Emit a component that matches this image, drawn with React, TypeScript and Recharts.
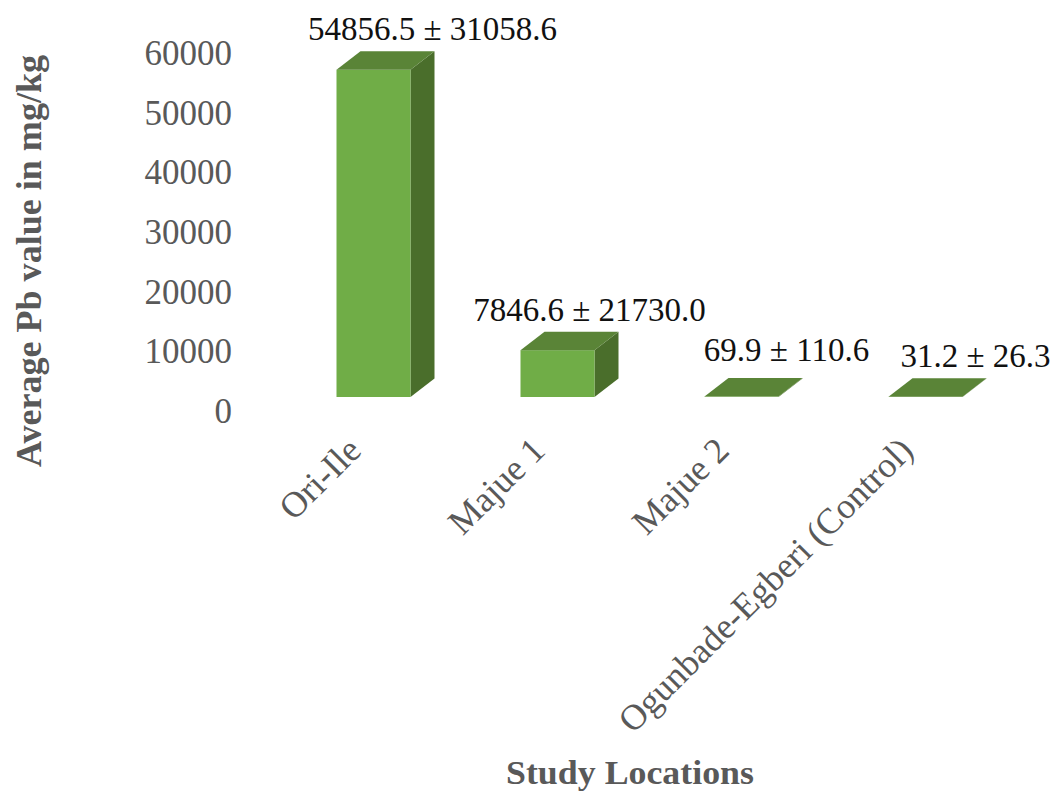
import { BarChart, Bar, XAxis, YAxis, LabelList } from 'recharts';

const categories = ['Ori-Ile', 'Majue 1', 'Majue 2', 'Ogunbade-Egberi (Control)'];
const means = [54856.5, 7846.6, 69.9, 31.2];
const errorText = ['31058.6', '21730.0', '110.6', '26.3'];
const yTicks = [0, 10000, 20000, 30000, 40000, 50000, 60000];

const data = categories.map((name, i) => ({
  name,
  mean: means[i],
  label: `${means[i]} ± ${errorText[i]}`,
}));

const FONT = '"Liberation Serif", serif';
const GREY = '#595959';
const DEPTH_X = 24;
const DEPTH_Y = 18.5;
// hand placed data labels, the originals were dragged around in Excel
const labelNudge = [
  { dx: 59, dy: -41 },
  { dx: 32, dy: -40 },
  { dx: 45, dy: -47 },
  { dx: 50, dy: -41 },
];

function Bar3D({ x, y, width, height }: any) {
  const right = x + width;
  const bottom = y + height;
  return (
    <g>
      <path
        d={`M${right} ${y}L${right + DEPTH_X} ${y - DEPTH_Y}L${right + DEPTH_X} ${bottom - DEPTH_Y}L${right} ${bottom}Z`}
        fill="#4a6e2b"
      />
      <rect x={x} y={y} width={width} height={height} fill="#70ad47" />
      <path
        d={`M${x} ${y}L${x + DEPTH_X} ${y - DEPTH_Y}L${right + DEPTH_X} ${y - DEPTH_Y}L${right} ${y}Z`}
        fill="#5a8437"
      />
    </g>
  );
}

function ValueLabel({ x, y, width, value, index }: any) {
  const nudge = labelNudge[index];
  return (
    <text
      x={x + width / 2 + nudge.dx}
      y={y + nudge.dy}
      textAnchor="middle"
      dominantBaseline="central"
      fontFamily={FONT}
      fontSize={33}
      fill="#111"
    >
      {value}
    </text>
  );
}

function YTick({ y, payload }: any) {
  return (
    <text
      x={232}
      y={y + 14.5}
      textAnchor="end"
      dominantBaseline="central"
      fontFamily={FONT}
      fontSize={35}
      fill={GREY}
    >
      {payload.value}
    </text>
  );
}

function XTick({ x, y, payload }: any) {
  const px = x - 19;
  const py = y + 39;
  return (
    <text
      x={px}
      y={py}
      textAnchor="end"
      dominantBaseline="central"
      transform={`rotate(-45 ${px} ${py})`}
      fontFamily={FONT}
      fontSize={36}
      fill={GREY}
    >
      {payload.value}
    </text>
  );
}

export default function App() {
  return (
    <div style={{ position: 'absolute', left: 0, top: 0, width: 1052, height: 791, background: '#fff' }}>
      <BarChart
        width={1052}
        height={791}
        data={data}
        barCategoryGap={55}
        margin={{ top: 39, right: 34.5, bottom: 0, left: 131.5 }}
      >
        <XAxis
          dataKey="name"
          interval={0}
          height={394}
          axisLine={false}
          tickLine={false}
          tick={<XTick />}
        />
        <YAxis
          width={150}
          domain={[0, 60000]}
          ticks={yTicks}
          axisLine={false}
          tickLine={false}
          tick={<YTick />}
        />
        <Bar dataKey="mean" shape={<Bar3D />} isAnimationActive={false}>
          <LabelList dataKey="label" content={<ValueLabel />} />
        </Bar>
        <text
          x={630}
          y={773}
          textAnchor="middle"
          dominantBaseline="central"
          fontFamily={FONT}
          fontWeight="bold"
          fontSize={33}
          textLength={248}
          lengthAdjust="spacingAndGlyphs"
          fill={GREY}
        >
          Study Locations
        </text>
        <text
          x={29}
          y={261}
          textAnchor="middle"
          dominantBaseline="central"
          transform="rotate(-90 29 261)"
          fontFamily={FONT}
          fontWeight="bold"
          fontSize={35}
          textLength={412}
          lengthAdjust="spacingAndGlyphs"
          fill={GREY}
        >
          Average Pb value in mg/kg
        </text>
      </BarChart>
    </div>
  );
}
